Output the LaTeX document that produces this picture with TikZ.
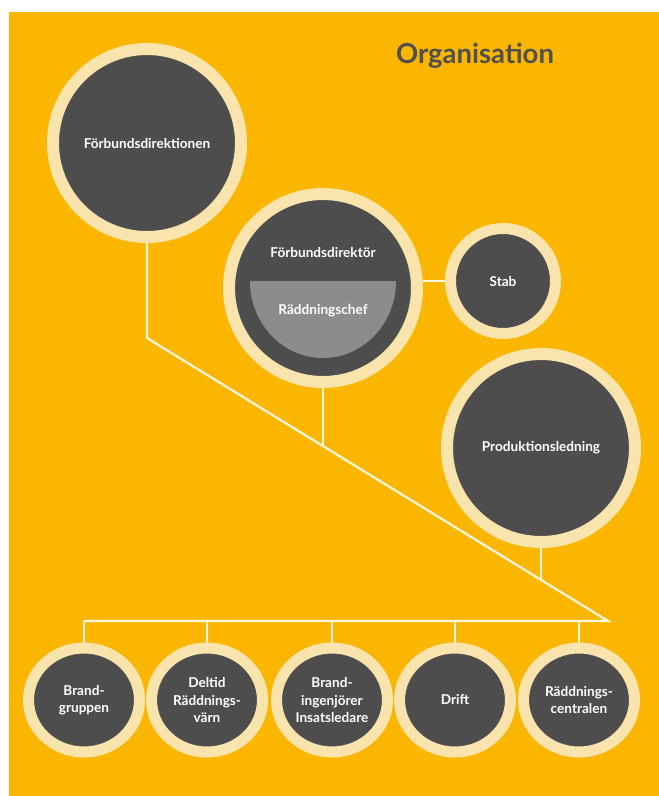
\documentclass[tikz,border=0pt]{standalone}
\usepackage{fontspec}
\setmainfont{Lato}
\usetikzlibrary{shapes.geometric,backgrounds}
\definecolor{bgyellow}{RGB}{250,182,0}
\definecolor{ringcol}{RGB}{248,228,172}
\definecolor{darkfill}{RGB}{77,77,77}
\definecolor{halfgray}{RGB}{140,140,140}
\definecolor{linecol}{RGB}{255,246,222}
\definecolor{titlecol}{RGB}{80,80,80}
\begin{document}
\begin{tikzpicture}[x=1pt,y=-1pt,
  ringbase/.style={draw=ringcol, line width=11pt, fill=darkfill, inner sep=0pt,
    text=white, align=center, font=\bfseries\fontsize{13.6}{17.5}\selectfont},
  bigcirc/.style={ringbase, circle, line width=12pt, minimum size=188pt},
  smallcirc/.style={ringbase, circle, minimum size=105pt},
  leafnode/.style={ringbase, ellipse, minimum width=111pt, minimum height=104pt},
  conn/.style={draw=linecol, line width=2.2pt},
  plain/.style={inner sep=0pt, text=white, font=\bfseries\fontsize{13.6}{16}\selectfont}
]
\useasboundingbox (0,0) rectangle (659,796);
\begin{scope}[on background layer]
  \fill[white] (0,0) rectangle (659,796);
  \fill[bgyellow] (9,12) rectangle (659,796);
\end{scope}

\node[font=\bfseries\fontsize{27.5}{32}\selectfont, text=titlecol, inner sep=0pt] (title) at (475,56) {Organisation};

\node[bigcirc] (fdn) at (147,143) {Förbundsdirektionen};
\node[bigcirc] (fdir) at (323,288) {};
\begin{scope}
  \clip (240,281) rectangle (406,380);
  \fill[halfgray] (323,281) ellipse [x radius=73pt, y radius=77pt];
\end{scope}
\node[plain] (fdirtext) at (323,252) {Förbundsdirektör};
\node[plain] (rchef) at (323,311) {Räddningschef};
\node[smallcirc] (stab) at (503,281) {Stab};
\node[bigcirc] (prod) at (541,448) {Produktionsledning};

\node[leafnode] (bg) at (84,700) {Brand-\\gruppen};
\node[leafnode] (dr) at (207,700) {Deltid\\Räddnings-\\värn};
\node[leafnode] (bi) at (332,700) {Brand-\\ingenjörer\\Insatsledare};
\node[leafnode] (dft) at (455,700) {Drift};
\node[leafnode] (rc) at (579,700) {Räddnings-\\centralen};

\coordinate (b1) at (147,338);
\coordinate (b2) at (608,621);
\coordinate (j1) at (323,445.8);
\coordinate (j2) at (541,579.6);
\coordinate (hl) at (84,621);

\begin{scope}[on background layer]
  \draw[conn] (fdn.south) -- (b1) -- (b2) -- (hl);
  \draw[conn] (fdir.south) -- (j1);
  \draw[conn] (prod.south) -- (j2);
  \draw[conn] (stab.west) -- (stab.west -| fdir.east);
  \draw[conn] (hl) -- (bg.north);
  \draw[conn] (dr.north |- hl) -- (dr.north);
  \draw[conn] (bi.north |- hl) -- (bi.north);
  \draw[conn] (dft.north |- hl) -- (dft.north);
  \draw[conn] (rc.north |- hl) -- (rc.north);
\end{scope}
\end{tikzpicture}
\end{document}
